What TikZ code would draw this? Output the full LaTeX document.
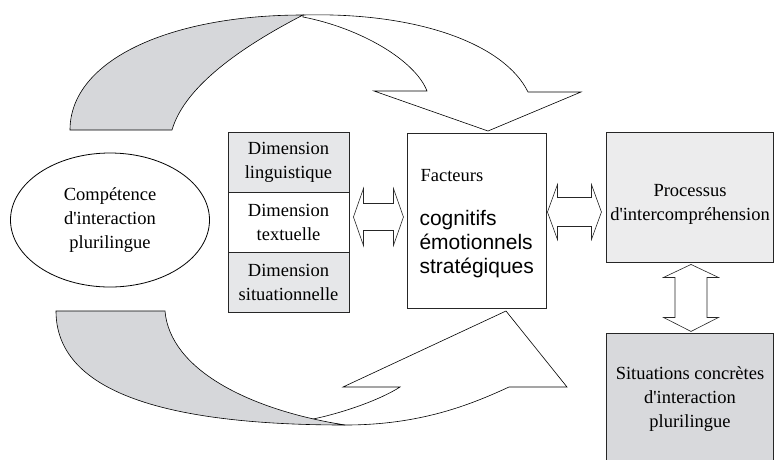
\documentclass[tikz,border=0pt]{standalone}
\usepackage{fontspec}
\setmainfont{Liberation Serif}
\setsansfont{Liberation Sans}
\usetikzlibrary{shapes.geometric}
\definecolor{ribbongray}{HTML}{D6D7DA}
\definecolor{dimgray}{HTML}{E6E7E9}
\definecolor{procgray}{HTML}{ECECED}
\definecolor{sitgray}{HTML}{D8D9DC}
\begin{document}
\begin{tikzpicture}[x=1pt,y=-1pt,
  txt/.style={font=\fontsize{18.5}{24}\selectfont,align=center},
  box/.style={draw=black!85,line width=0.9pt,inner sep=0pt},
  blockarrow/.style={draw=black!85,line width=0.6pt,fill=white},
  ribbon/.style={draw=black,line width=0.6pt}]
\useasboundingbox (0,0) rectangle (774,459);
\draw[ribbon,fill=ribbongray](70,130) .. controls (70,60) and (170,15) .. (303,15)
  .. controls (245,45) and (185,85) .. (172,130) -- cycle;
\draw[ribbon,fill=white](303,15) .. controls (420,12) and (505,45) .. (528,92) -- (581,92) -- (488,131)
  -- (374,91) -- (427,91) .. controls (415,60) and (360,28) .. (303,17) -- cycle;
\draw[ribbon,fill=white](308,420) .. controls (340,414) and (380,400) .. (400,387) -- (343,387) -- (506,311)
  -- (567,387) -- (509,387) .. controls (470,405) and (420,425) .. (345,425) -- cycle;
\draw[ribbon,fill=ribbongray](56,311) .. controls (56,390) and (160,425) .. (345,425)
  .. controls (250,410) and (170,370) .. (165,311) -- cycle;
\node[draw,ellipse,line width=0.8pt,minimum width=199pt,minimum height=134pt,txt] (comp) at (110,220) {Compétence\\d\textquotesingle interaction\\plurilingue};
\node[box,fill=dimgray,minimum width=121pt,minimum height=60pt,txt] (dimL) at (288.5,162) {Dimension\\linguistique};
\node[box,fill=white,minimum width=121pt,minimum height=60pt,txt] (dimT) at (288.5,222) {Dimension\\textuelle};
\node[box,fill=dimgray,minimum width=121pt,minimum height=60pt,txt] (dimS) at (288.5,282) {Dimension\\situationnelle};
\node[box,fill=white,minimum width=139pt,minimum height=175pt] (fac) at (476.5,220.5) {};
\node[txt,anchor=base west] (facT) at (417,181) {Facteurs};
\node[anchor=north west,align=left,font=\sffamily\fontsize{21}{24}\selectfont] (facL) at (416,207) {cognitifs\\émotionnels\\stratégiques};
\node[box,fill=procgray,minimum width=167pt,minimum height=130pt] (proc) at (689.5,197) {};
\node[txt] (procL) at (690,204) {Processus\\d\textquotesingle intercompréhension};
\node[box,fill=sitgray,minimum width=167pt,minimum height=130pt,anchor=north] (sit) at (689.5,333) {};
\node[txt] (sitL) at (690,399) {Situations concrètes\\d\textquotesingle interaction\\plurilingue};
\draw[blockarrow]([xshift=4pt,yshift=5pt]dimT.east) --++(10,-28.5) --++(0,15) --++(30,0) --++(0,-15) --++(10,28.5)
  --++(-10,28.5) --++(0,-15) --++(-30,0) --++(0,15) -- cycle;
\draw[blockarrow]([xshift=1pt,yshift=8.5pt]fac.east) --++(10,-27.5) --++(0,13) --++(34,0) --++(0,-13) --++(10,27.5)
  --++(-10,27.5) --++(0,-13) --++(-34,0) --++(0,13) -- cycle;
\draw[blockarrow]([xshift=1.5pt,yshift=-2pt]proc.south) --++(27.5,13) --++(-11.5,0) --++(0,40) --++(11.5,0) --++(-27.5,14)
  --++(-27.5,-14) --++(11.5,0) --++(0,-40) --++(-11.5,0) -- cycle;
\end{tikzpicture}
\end{document}
